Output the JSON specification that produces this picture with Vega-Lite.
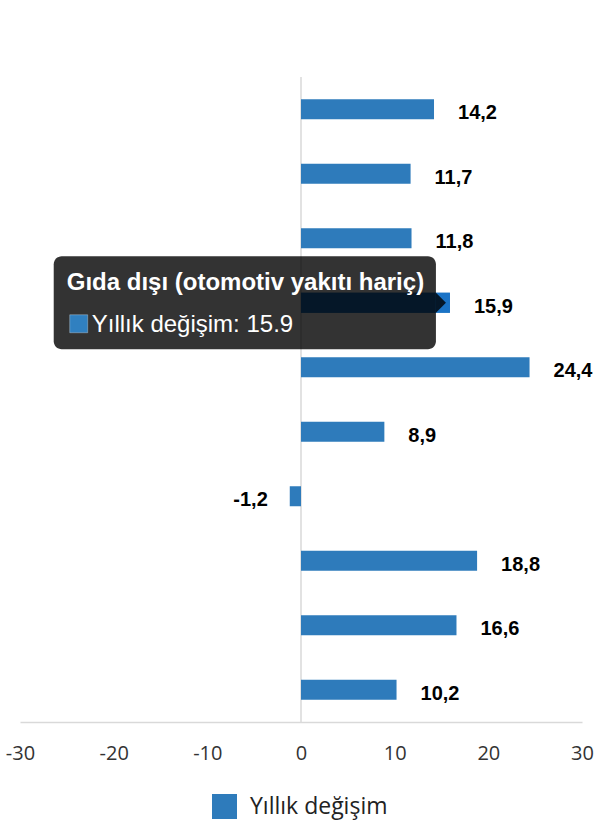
{
  "$schema": "https://vega.github.io/schema/vega-lite/v6.json",
  "width": 562,
  "height": 645,
  "autosize": "none",
  "padding": {"left": 20, "top": 77, "right": 18, "bottom": 118},
  "background": "#ffffff",
  "view": {"stroke": null},
  "config": {
    "font": "Open Sans",
    "locale": {
      "number": {"decimal": ",", "thousands": ".", "grouping": [3], "currency": ["", " TL"], "minus": "-"}
    }
  },
  "data": {
    "values": [
      {"kategori": "Toplam perakende satış", "deger": 14.2, "seri": "Yıllık değişim"},
      {"kategori": "Gıda, içecek ve tütün", "deger": 11.7, "seri": "Yıllık değişim"},
      {"kategori": "Otomotiv yakıtı", "deger": 11.8, "seri": "Yıllık değişim"},
      {"kategori": "Gıda dışı (otomotiv yakıtı hariç)", "deger": 15.9, "seri": "Yıllık değişim"},
      {"kategori": "Posta yoluyla veya internet üzerinden", "deger": 24.4, "seri": "Yıllık değişim"},
      {"kategori": "Bilgisayar, kitap, telekomünikasyon", "deger": 8.9, "seri": "Yıllık değişim"},
      {"kategori": "Tekstil, giyim ve ayakkabı", "deger": -1.2, "seri": "Yıllık değişim"},
      {"kategori": "Elektrikli eşya, mobilya", "deger": 18.8, "seri": "Yıllık değişim"},
      {"kategori": "Eczacılık ve tıbbi ürünler", "deger": 16.6, "seri": "Yıllık değişim"},
      {"kategori": "Diğer gıda dışı", "deger": 10.2, "seri": "Yıllık değişim"}
    ]
  },
  "layer": [
    {
      "data": {"values": [{"sifir": 0}]},
      "mark": {"type": "rule", "color": "#d9d9d9", "strokeWidth": 1.5},
      "encoding": {"x": {"field": "sifir", "type": "quantitative"}}
    },
    {
      "mark": {"type": "bar", "height": 20},
      "encoding": {
        "y": {"field": "kategori", "type": "nominal", "sort": null, "axis": null,
              "scale": {"paddingInner": 0, "paddingOuter": 0}},
        "x": {
          "field": "deger",
          "type": "quantitative",
          "scale": {"domain": [-30, 30], "nice": false},
          "axis": {
            "title": null,
            "grid": false,
            "ticks": false,
            "values": [-30, -20, -10, 0, 10, 20, 30],
            "labelFlush": false,
            "domainColor": "#d9d9d9",
            "domainWidth": 1.5,
            "labelFont": "Open Sans",
            "labelFontSize": 20,
            "labelColor": "#333333",
            "labelPadding": 21
          }
        },
        "color": {
          "field": "seri",
          "type": "nominal",
          "scale": {"range": ["#2e7bbb"]},
          "legend": {
            "title": null,
            "orient": "none",
            "legendX": 192,
            "legendY": 717,
            "direction": "horizontal",
            "symbolType": "square",
            "symbolSize": 625,
            "symbolStrokeWidth": 0,
            "labelFont": "Open Sans",
            "labelFontSize": 23,
            "labelColor": "#222222",
            "labelOffset": 13
          }
        },
        "tooltip": [
          {"field": "kategori", "type": "nominal", "title": "Kategori"},
          {"field": "deger", "type": "quantitative", "title": "Yıllık değişim"}
        ]
      }
    },
    {
      "transform": [{"filter": "datum.kategori === 'Gıda dışı (otomotiv yakıtı hariç)'"}],
      "mark": {"type": "bar", "height": 20, "color": "#1a73c6"},
      "encoding": {
        "y": {"field": "kategori", "type": "nominal", "sort": null},
        "x": {"field": "deger", "type": "quantitative"}
      }
    },
    {
      "transform": [{"filter": "datum.deger >= 0"}],
      "mark": {"type": "text", "align": "left", "baseline": "middle", "dx": 24, "dy": 4,
               "font": "Liberation Sans", "fontWeight": "bold", "fontSize": 20, "color": "#000000"},
      "encoding": {
        "y": {"field": "kategori", "type": "nominal", "sort": null},
        "x": {"field": "deger", "type": "quantitative"},
        "text": {"field": "deger", "type": "quantitative", "format": ".1f"}
      }
    },
    {
      "transform": [{"filter": "datum.deger < 0"}],
      "mark": {"type": "text", "align": "right", "baseline": "middle", "dx": -22, "dy": 4,
               "font": "Liberation Sans", "fontWeight": "bold", "fontSize": 20, "color": "#000000"},
      "encoding": {
        "y": {"field": "kategori", "type": "nominal", "sort": null},
        "x": {"field": "deger", "type": "quantitative"},
        "text": {"field": "deger", "type": "quantitative", "format": ".1f"}
      }
    },
    {
      "transform": [{"filter": "datum.kategori === 'Gıda dışı (otomotiv yakıtı hariç)'"}],
      "mark": {"type": "bar", "height": 93, "cornerRadius": 8, "color": "#000000", "opacity": 0.8, "xOffset": -14},
      "encoding": {
        "y": {"field": "kategori", "type": "nominal", "sort": null},
        "x": {"field": "deger", "type": "quantitative"},
        "x2": {"datum": -26.4}
      }
    },
    {
      "transform": [{"filter": "datum.kategori === 'Gıda dışı (otomotiv yakıtı hariç)'"}],
      "mark": {"type": "point", "shape": "M-0.5,-1L0.5,0L-0.5,1Z", "size": 400, "filled": true,
               "color": "#000000", "opacity": 0.8, "xOffset": -9},
      "encoding": {
        "y": {"field": "kategori", "type": "nominal", "sort": null},
        "x": {"field": "deger", "type": "quantitative"}
      }
    },
    {
      "transform": [{"filter": "datum.kategori === 'Gıda dışı (otomotiv yakıtı hariç)'"}],
      "mark": {"type": "text", "align": "left", "baseline": "alphabetic", "dx": 13, "dy": -13,
               "font": "Liberation Sans", "fontWeight": "bold", "fontSize": 24, "color": "#ffffff"},
      "encoding": {
        "y": {"field": "kategori", "type": "nominal", "sort": null},
        "x": {"datum": -26.4, "type": "quantitative"},
        "text": {"field": "kategori", "type": "nominal"}
      }
    },
    {
      "transform": [{"filter": "datum.kategori === 'Gıda dışı (otomotiv yakıtı hariç)'"}],
      "mark": {"type": "point", "shape": "square", "size": 324, "filled": true, "color": "#3080c0",
               "opacity": 1, "stroke": "#ffffff", "strokeWidth": 0.5, "strokeOpacity": 0.6,
               "xOffset": 25, "yOffset": 21},
      "encoding": {
        "y": {"field": "kategori", "type": "nominal", "sort": null},
        "x": {"datum": -26.4, "type": "quantitative"}
      }
    },
    {
      "transform": [
        {"filter": "datum.kategori === 'Gıda dışı (otomotiv yakıtı hariç)'"},
        {"calculate": "datum.seri + ': ' + datum.deger", "as": "ipucu"}
      ],
      "mark": {"type": "text", "align": "left", "baseline": "alphabetic", "dx": 38, "dy": 29,
               "font": "Liberation Sans", "fontSize": 24, "color": "#ffffff"},
      "encoding": {
        "y": {"field": "kategori", "type": "nominal", "sort": null},
        "x": {"datum": -26.4, "type": "quantitative"},
        "text": {"field": "ipucu", "type": "nominal"}
      }
    }
  ]
}
